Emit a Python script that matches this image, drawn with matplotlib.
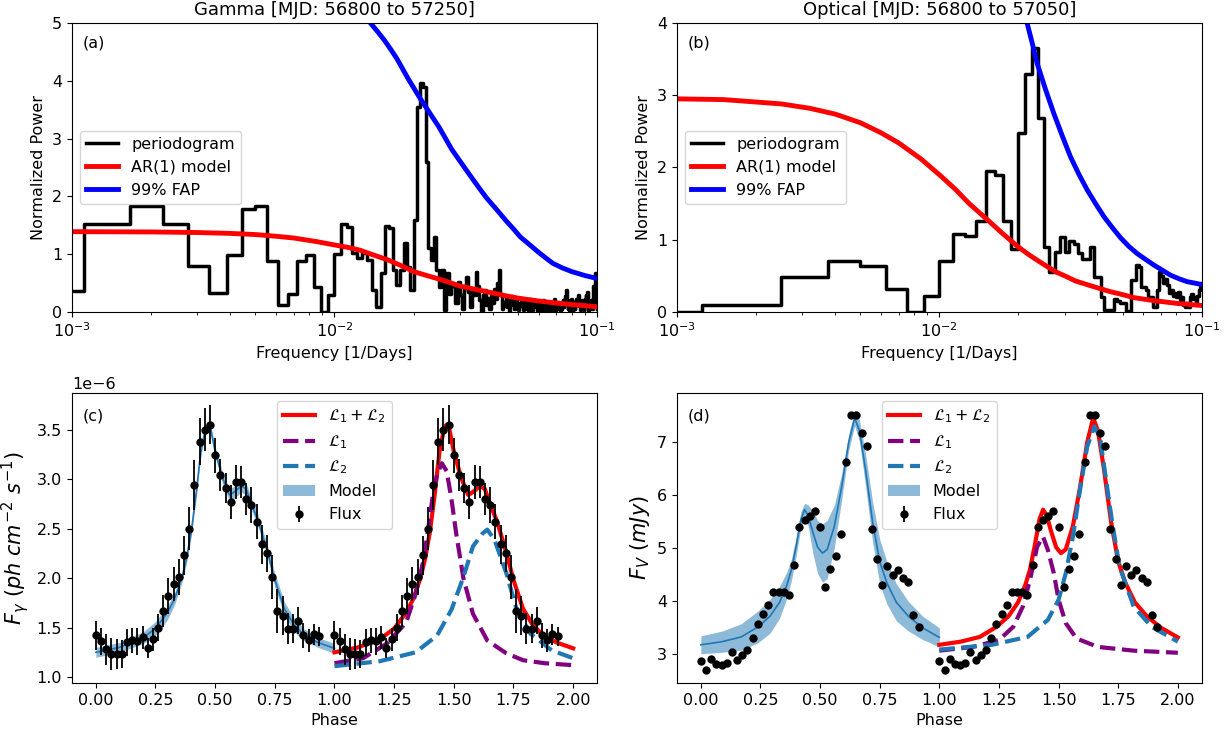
import numpy as np
import matplotlib.pyplot as plt

# ---- periodograms (steps, f_k = k * df) ----
df_gam = 1.0 / 1800
pow_gam = [0.37, 1.52, 1.83, 1.52, 0.80, 0.33, 0.99, 1.78, 1.84, 0.89,
           0.12, 0.31, 0.89, 0.99, 0.43, 0.00, 0.29, 1.00, 1.53, 1.47,
           1.02, 0.93, 1.02, 0.90, 0.38, 0.09, 0.67, 1.48, 1.45, 0.73,
           0.47, 0.73, 1.19, 0.78, 0.38, 1.59, 3.55, 3.96, 3.90, 2.60,
           1.10, 0.90, 1.30, 0.73, 0.44, 0.73, 0.03, 0.67, 0.32, 0.50,
           0.45, 0.15, 0.52, 0.30, 0.05, 0.42, 0.60, 0.35, 0.08, 0.40,
           0.30, 0.70, 0.45, 0.20, 0.02, 0.30, 0.38, 0.12, 0.25, 0.05,
           0.30, 0.15, 0.40, 0.22, 0.50, 0.72, 0.30, 0.05, 0.18, 0.10,
           0.25, 0.08, 0.02, 0.20, 0.28, 0.12, 0.05, 0.22, 0.15, 0.03,
           0.10, 0.25, 0.18, 0.04, 0.12, 0.20, 0.06, 0.02, 0.15, 0.22,
           0.10, 0.03, 0.08, 0.18, 0.12, 0.02, 0.05, 0.15, 0.08, 0.01,
           0.12, 0.20, 0.06, 0.03, 0.10, 0.16, 0.05, 0.02, 0.12, 0.07,
           0.02, 0.15, 0.22, 0.08, 0.03, 0.10, 0.05, 0.18, 0.12, 0.02,
           0.06, 0.14, 0.20, 0.08, 0.15, 0.28, 0.38, 0.20, 0.05, 0.10,
           0.04, 0.12, 0.22, 0.08, 0.02, 0.10, 0.18, 0.06, 0.14, 0.22,
           0.12, 0.20, 0.30, 0.10, 0.03, 0.15, 0.08, 0.20, 0.12, 0.04,
           0.10, 0.22, 0.30, 0.25, 0.35, 0.10, 0.02, 0.15, 0.08, 0.20,
           0.12, 0.05, 0.30, 0.45, 0.20, 0.35, 0.68, 0.55, 0.10, 0.05]
freq_gam = np.arange(1, len(pow_gam) + 1) * df_gam

df_opt = 0.00125
pow_opt = [0.00, 0.10, 0.48, 0.70, 0.63, 0.32, 0.00, 0.22, 0.70, 1.08,
           1.05, 1.26, 1.95, 1.90, 1.26, 0.87, 2.48, 3.30, 3.66, 2.68,
           0.90, 0.55, 0.83, 1.04, 0.83, 0.98, 0.94, 0.81, 0.73, 0.73,
           0.90, 0.49, 0.49, 0.21, 0.03, 0.03, 0.03, 0.18, 0.15, 0.12,
           0.12, 0.02, 0.02, 0.44, 0.44, 0.65, 0.62, 0.35, 0.35, 0.30,
           0.21, 0.21, 0.07, 0.07, 0.30, 0.56, 0.50, 0.40, 0.45, 0.38,
           0.26, 0.30, 0.22, 0.26, 0.21, 0.28, 0.15, 0.21, 0.10, 0.07,
           0.12, 0.07, 0.21, 0.25, 0.18, 0.21, 0.10, 0.22, 0.30, 0.35,
           0.40]
freq_opt = np.arange(0, len(pow_opt)) * df_opt

# AR(1) model and 99% FAP curves
ar_gam_f = [1e-3, 2e-3, 3e-3, 4e-3, 5e-3, 6e-3, 7e-3, 8.5e-3, 1e-2, 1.12e-2,
            1.25e-2, 1.4e-2, 1.6e-2, 1.8e-2, 2e-2, 2.25e-2, 2.5e-2, 2.75e-2,
            3e-2, 3.5e-2, 4e-2, 4.5e-2, 5e-2, 6e-2, 7e-2, 8e-2, 9e-2, 1e-1]
ar_gam_p = [1.39, 1.385, 1.375, 1.36, 1.34, 1.31, 1.28, 1.22, 1.16, 1.12,
            1.07, 0.99, 0.90, 0.80, 0.70, 0.63, 0.57, 0.51,
            0.45, 0.385, 0.33, 0.28, 0.24, 0.19, 0.155, 0.13, 0.11, 0.09]
fap_gam_f = [0.0130, 0.0137, 0.0146, 0.0155, 0.0164, 0.0173, 0.0190, 0.0211,
             0.0230, 0.025, 0.028, 0.0305, 0.033, 0.0355, 0.038, 0.0415,
             0.045, 0.048, 0.051, 0.0555, 0.06, 0.064, 0.068, 0.074, 0.08,
             0.09, 0.1]
fap_gam_p = [5.3, 5.0, 4.85, 4.7, 4.54, 4.38, 4.05, 3.71,
             3.45, 3.2, 2.81, 2.57, 2.35, 2.15, 1.97, 1.77,
             1.58, 1.44, 1.30, 1.16, 1.03, 0.93, 0.84, 0.76, 0.70,
             0.63, 0.58]

ar_opt_f = [1e-3, 1.5e-3, 2.5e-3, 3.2e-3, 4e-3, 5e-3, 6e-3, 7e-3, 8.5e-3, 1e-2,
            1.15e-2, 1.3e-2, 1.5e-2, 1.75e-2, 2e-2, 2.2e-2, 2.4e-2, 2.6e-2,
            2.8e-2, 3.05e-2, 3.3e-2, 3.8e-2, 4.5e-2, 5e-2, 5.5e-2, 6.5e-2,
            8e-2, 9e-2, 1e-1]
ar_opt_p = [2.95, 2.94, 2.88, 2.82, 2.74, 2.62, 2.48, 2.34, 2.12, 1.90,
            1.70, 1.50, 1.30, 1.08, 0.90, 0.79, 0.70, 0.62,
            0.55, 0.49, 0.43, 0.36, 0.28, 0.24, 0.20, 0.16,
            0.12, 0.105, 0.09]
fap_opt_f = [0.0200, 0.0216, 0.0226, 0.0236, 0.0254, 0.0273, 0.0294, 0.0316,
             0.034, 0.0366, 0.0394, 0.0424, 0.0456, 0.049, 0.0527, 0.0567,
             0.061, 0.0657, 0.0707, 0.076, 0.082, 0.088, 0.094, 0.1]
fap_opt_p = [4.45, 4.0, 3.72, 3.44, 3.08, 2.75, 2.44, 2.15,
             1.91, 1.69, 1.50, 1.32, 1.17, 1.03, 0.91, 0.81,
             0.73, 0.65, 0.58, 0.51, 0.46, 0.42, 0.40, 0.38]

# ---- folded light curves ----
phase_gam = np.arange(44) / 46.0
flux_gam = [1.42, 1.36, 1.28, 1.23, 1.23, 1.23, 1.35, 1.37, 1.36, 1.40,
            1.29, 1.38, 1.50, 1.67, 1.82, 1.94, 2.01, 2.23, 2.50, 2.94,
            3.38, 3.50, 3.55, 3.24, 3.04, 2.91, 2.77, 2.97, 2.97, 2.80,
            2.74, 2.57, 2.34, 2.25, 2.01, 1.67, 1.62, 1.49, 1.49, 1.57,
            1.42, 1.37, 1.43, 1.41]
err_gam = [0.15, 0.14, 0.16, 0.16, 0.15, 0.14, 0.14, 0.13, 0.14, 0.12,
           0.10, 0.12, 0.14, 0.16, 0.18, 0.17, 0.18, 0.20, 0.22, 0.25,
           0.24, 0.22, 0.20, 0.18, 0.16, 0.15, 0.17, 0.17, 0.16, 0.16,
           0.18, 0.18, 0.20, 0.19, 0.22, 0.22, 0.20, 0.16, 0.15, 0.14,
           0.13, 0.12, 0.11, 0.10]

mod_gam_ph = [0.00, 0.10, 0.20, 0.25, 0.30, 0.33, 0.36, 0.38, 0.40, 0.42,
              0.44, 0.46, 0.47, 0.48, 0.50, 0.53, 0.56, 0.58, 0.61, 0.63,
              0.65, 0.68, 0.72, 0.75, 0.79, 0.83, 0.87, 0.93, 1.00]
mod_gam = [1.25, 1.30, 1.40, 1.49, 1.65, 1.79, 2.00, 2.20, 2.47, 2.85,
           3.28, 3.52, 3.55, 3.52, 3.28, 3.02, 2.84, 2.87, 2.93, 2.90,
           2.76, 2.58, 2.26, 1.98, 1.69, 1.53, 1.43, 1.35, 1.29]
band_gam = [0.05, 0.05, 0.06, 0.07, 0.07, 0.06, 0.05, 0.05, 0.05, 0.05,
            0.05, 0.04, 0.04, 0.04, 0.05, 0.06, 0.06, 0.06, 0.06, 0.06,
            0.06, 0.06, 0.06, 0.07, 0.07, 0.07, 0.06, 0.05, 0.05]
l1_gam_ph = [0.00, 0.12, 0.22, 0.30, 0.34, 0.37, 0.39, 0.41, 0.43, 0.45,
             0.47, 0.49, 0.51, 0.54, 0.58, 0.64, 0.72, 0.79, 0.88, 1.00]
l1_gam = [1.14, 1.19, 1.34, 1.55, 1.84, 2.15, 2.45, 2.80, 3.05, 3.16,
          3.08, 2.80, 2.45, 2.00, 1.64, 1.37, 1.24, 1.17, 1.14, 1.12]
l2_gam_ph = [0.00, 0.19, 0.34, 0.43, 0.49, 0.54, 0.58, 0.62, 0.64, 0.67,
             0.72, 0.76, 0.82, 0.91, 1.00]
l2_gam = [1.11, 1.16, 1.25, 1.42, 1.68, 2.01, 2.32, 2.45, 2.49, 2.39,
          2.05, 1.71, 1.44, 1.27, 1.19]

phase_opt = np.arange(43) / 46.0
flux_opt = [2.88, 2.70, 2.91, 2.82, 2.79, 2.83, 3.05, 2.89, 2.98, 3.09,
            3.30, 3.57, 3.77, 3.93, 4.18, 4.17, 4.17, 4.12, 4.68, 5.40,
            5.54, 5.61, 5.71, 5.40, 4.28, 4.61, 4.86, 5.27, 6.62, 7.51,
            7.51, 7.18, 6.94, 5.36, 4.80, 4.30, 4.67, 4.50, 4.59, 4.44,
            4.36, 3.74, 3.52]
err_opt = [0.03] * len(flux_opt)

mod_opt_ph = [0.00, 0.09, 0.17, 0.24, 0.29, 0.33, 0.36, 0.38, 0.40, 0.42,
              0.435, 0.45, 0.47, 0.49, 0.51, 0.53, 0.56, 0.59, 0.62, 0.645,
              0.665, 0.69, 0.72, 0.75, 0.78, 0.82, 0.87, 0.93, 1.00]
mod_opt = [3.18, 3.24, 3.33, 3.52, 3.72, 3.98, 4.30, 4.60, 5.05, 5.55,
           5.73, 5.62, 5.30, 5.02, 4.91, 4.98, 5.42, 6.15, 7.00, 7.46,
           7.22, 6.50, 5.50, 4.75, 4.35, 3.98, 3.72, 3.50, 3.32]
band_opt = [0.17, 0.20, 0.25, 0.30, 0.32, 0.30, 0.25, 0.20, 0.18, 0.15,
            0.12, 0.20, 0.40, 0.50, 0.55, 0.55, 0.40, 0.25, 0.15, 0.15,
            0.20, 0.30, 0.38, 0.42, 0.40, 0.35, 0.28, 0.22, 0.18]
l1_opt_ph = [0.00, 0.14, 0.25, 0.31, 0.35, 0.38, 0.41, 0.435, 0.455, 0.48,
             0.50, 0.53, 0.575, 0.665, 0.815, 1.00]
l1_opt = [3.07, 3.14, 3.27, 3.52, 3.90, 4.40, 5.03, 5.22, 4.97, 4.53,
          4.03, 3.59, 3.30, 3.14, 3.07, 3.03]
l2_opt_ph = [0.00, 0.22, 0.37, 0.455, 0.50, 0.53, 0.56, 0.59, 0.62, 0.65,
             0.673, 0.695, 0.725, 0.755, 0.815, 0.89, 1.00]
l2_opt = [3.09, 3.18, 3.33, 3.65, 4.03, 4.53, 5.22, 6.11, 6.92, 7.30,
          7.11, 6.42, 5.48, 4.66, 3.90, 3.52, 3.24]

fig = plt.figure(figsize=(12.32, 7.3), dpi=100)
ax_a = fig.add_axes([0.0584, 0.5726, 0.4262, 0.3959])
ax_b = fig.add_axes([0.5495, 0.5726, 0.4259, 0.3959])
ax_c = fig.add_axes([0.0584, 0.0644, 0.4262, 0.3972])
ax_d = fig.add_axes([0.5495, 0.0644, 0.4259, 0.3972])


def periodogram_panel(ax, f, p, arf, arp, ff, fp, ymax, title, tag):
    ax.step(f, p, where='post', color='black', lw=2.5, label='periodogram')
    ax.plot(arf, arp, color='red', lw=3.5, label='AR(1) model')
    ax.plot(ff, fp, color='blue', lw=3.5, label='99% FAP')
    ax.set_xscale('log')
    ax.set_xlim(1e-3, 1e-1)
    ax.set_ylim(0, ymax)
    ax.set_yticks(range(ymax + 1))
    ax.set_xlabel('Frequency [1/Days]', fontsize=11.5)
    ax.set_ylabel('Normalized Power', fontsize=11.5)
    ax.set_title(title, fontsize=13)
    ax.tick_params(labelsize=11.5)
    ax.text(0.02, 0.93, tag, transform=ax.transAxes, fontsize=11.5, va='center')
    ax.legend(loc='center left', fontsize=11.5)


periodogram_panel(ax_a, freq_gam, pow_gam, ar_gam_f, ar_gam_p, fap_gam_f, fap_gam_p,
                  5, 'Gamma [MJD: 56800 to 57250]', '(a)')
periodogram_panel(ax_b, freq_opt, pow_opt, ar_opt_f, ar_opt_p, fap_opt_f, fap_opt_p,
                  4, 'Optical [MJD: 56800 to 57050]', '(b)')


def phase_panel(ax, ph, fl, er, mph, mv, bw, l1ph, l1, l2ph, l2, scale, ylim, ylabel, tag):
    ph = np.asarray(ph)
    fl = np.asarray(fl) * scale
    er = np.asarray(er) * scale
    mph = np.asarray(mph)
    mv = np.asarray(mv) * scale
    bw = np.asarray(bw) * scale
    l1ph = np.asarray(l1ph)
    l2ph = np.asarray(l2ph)
    ax.plot(mph + 1, mv, color='red', lw=3, label=r'$\mathcal{L}_1 + \mathcal{L}_2$')
    ax.plot(l1ph + 1, np.asarray(l1) * scale, color='purple', lw=3, ls='--',
            label=r'$\mathcal{L}_1$')
    ax.plot(l2ph + 1, np.asarray(l2) * scale, color='#1f77b4', lw=3, ls='--',
            label=r'$\mathcal{L}_2$')
    ax.fill_between(mph, mv - bw, mv + bw, color='#1f77b4', alpha=0.5, lw=0,
                    label='Model')
    ax.plot(mph, mv, color='#1f77b4', lw=1.2)
    ax.errorbar(np.concatenate([ph, ph + 1]), np.concatenate([fl, fl]),
                yerr=np.concatenate([er, er]), fmt='o', color='black',
                ms=5, elinewidth=1.3, capsize=0, label='Flux')
    ax.set_xlim(-0.1, 2.1)
    ax.set_ylim(ylim[0] * scale, ylim[1] * scale)
    ax.set_xlabel('Phase', fontsize=11.5)
    ax.set_ylabel(ylabel, fontsize=15)
    ax.tick_params(labelsize=11.5)
    ax.yaxis.get_offset_text().set_fontsize(11.5)
    ax.text(0.02, 0.92, tag, transform=ax.transAxes, fontsize=11.5, va='center')
    ax.legend(loc='upper center', fontsize=11.5)


phase_panel(ax_c, phase_gam, flux_gam, err_gam, mod_gam_ph, mod_gam, band_gam,
            l1_gam_ph, l1_gam, l2_gam_ph, l2_gam, 1e-6, (0.94, 3.87),
            r'$F_{\gamma}\ (ph\ cm^{-2}\ s^{-1})$', '(c)')
phase_panel(ax_d, phase_opt, flux_opt, err_opt, mod_opt_ph, mod_opt, band_opt,
            l1_opt_ph, l1_opt, l2_opt_ph, l2_opt, 1.0, (2.46, 7.93),
            r'$F_{V}\ (mJy)$', '(d)')

fig.savefig('out.png', dpi=100)
